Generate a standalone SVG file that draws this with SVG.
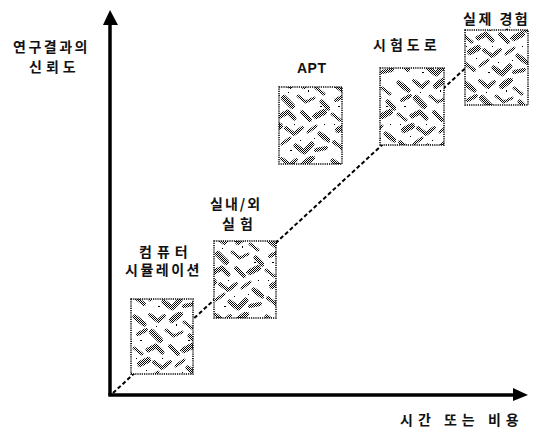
<svg xmlns="http://www.w3.org/2000/svg" width="541" height="429" viewBox="0 0 541 429">
<style>
.lbl{font-family:"Noto Sans CJK KR","Liberation Sans",sans-serif;font-size:14px;font-weight:bold;fill:#111;letter-spacing:2.5px}
.axis{stroke:#000;stroke-width:3.5;fill:none}
.box{fill:url(#tex);stroke:#000;stroke-width:1.5;stroke-dasharray:1.2 1}
.conn{stroke:#000;stroke-width:2;stroke-dasharray:4 2.5;fill:none}
.st{fill:none;stroke:url(#dots);stroke-linejoin:round;stroke-linecap:round}
</style>
<defs>
<pattern id="dots" width="2" height="2" patternUnits="userSpaceOnUse">
<rect width="1" height="1" fill="#000"/>
<rect x="1" y="1" width="1" height="1" fill="#000"/>
</pattern>
<pattern id="tex" width="66" height="78" patternUnits="userSpaceOnUse">
<rect width="66" height="78" fill="#fff"/>
<g class="st">
<polyline points="3,5 12,12" stroke-width="5"/>
<polyline points="18,3 26,9 32,4" stroke-width="4"/>
<polyline points="40,8 48,2" stroke-width="6"/>
<polyline points="52,10 60,16" stroke-width="3"/>
<polyline points="6,22 14,18" stroke-width="4"/>
<polyline points="20,20 28,28" stroke-width="6"/>
<polyline points="34,18 42,24 50,20" stroke-width="3"/>
<polyline points="58,24 64,30" stroke-width="5"/>
<polyline points="2,36 10,42" stroke-width="3"/>
<polyline points="16,38 24,34 30,40" stroke-width="5"/>
<polyline points="38,34 46,42" stroke-width="4"/>
<polyline points="52,38 60,34" stroke-width="6"/>
<polyline points="8,52 16,48" stroke-width="6"/>
<polyline points="22,50 30,56 38,50" stroke-width="4"/>
<polyline points="44,54 52,48" stroke-width="3"/>
<polyline points="56,56 64,62" stroke-width="5"/>
<polyline points="4,64 12,70" stroke-width="4"/>
<polyline points="18,66 26,60" stroke-width="3"/>
<polyline points="32,68 40,74 48,66" stroke-width="5"/>
<polyline points="52,72 62,70" stroke-width="4"/>
</g>
<path d="M24 14h1v1h-1z M8 28h2v1h-2z M44 12h1v2h-1z M30 46h1v1h-1z M56 28h2v1h-2z M14 58h1v1h-1z M48 38h1v1h-1z M26 72h2v1h-2z M60 46h1v1h-1z M36 62h1v1h-1z M4 46h1v1h-1z M50 60h1v1h-1z" fill="#000"/>
</pattern>
</defs>
<g id="connectors">
<line class="conn" x1="113" y1="393" x2="510" y2="27"/>
</g>
<g id="axes">
<line class="axis" x1="110" y1="22" x2="110" y2="395"/>
<line class="axis" x1="108.25" y1="395" x2="516" y2="395"/>
<polygon points="110,10 103,25 118,25" fill="#000"/>
<polygon points="528,395 513,388 513,401" fill="#000"/>
</g>
<g id="node-sim">
<rect class="box" x="131" y="299" width="62" height="75"/>
<text class="lbl" x="139" y="257" style="letter-spacing:5px">컴퓨터</text>
<text class="lbl" x="125" y="275">시뮬레이션</text>
</g>
<g id="node-lab">
<rect class="box" x="214" y="241" width="62" height="77"/>
<text class="lbl" x="210" y="209" style="letter-spacing:2px">실내/외</text>
<text class="lbl" x="222" y="229" style="letter-spacing:5px">실험</text>
</g>
<g id="node-apt">
<rect class="box" x="279" y="87" width="63" height="77"/>
<text class="lbl" x="297" y="73" style="font-family:'Liberation Sans',sans-serif;letter-spacing:0.5px">APT</text>
</g>
<g id="node-road">
<rect class="box" x="380" y="68" width="64" height="77"/>
<text class="lbl" x="373" y="50" style="letter-spacing:4px">시험도로</text>
</g>
<g id="node-real">
<rect class="box" x="465" y="30" width="63" height="75"/>
<text class="lbl" x="463" y="24">실제 경험</text>
</g>
<g id="axis-labels">
<text class="lbl" x="13" y="52">연구결과의</text>
<text class="lbl" x="29" y="72" style="letter-spacing:4px">신뢰도</text>
<text class="lbl" x="400" y="425" style="letter-spacing:5px">시간 또는 비용</text>
</g>
</svg>
